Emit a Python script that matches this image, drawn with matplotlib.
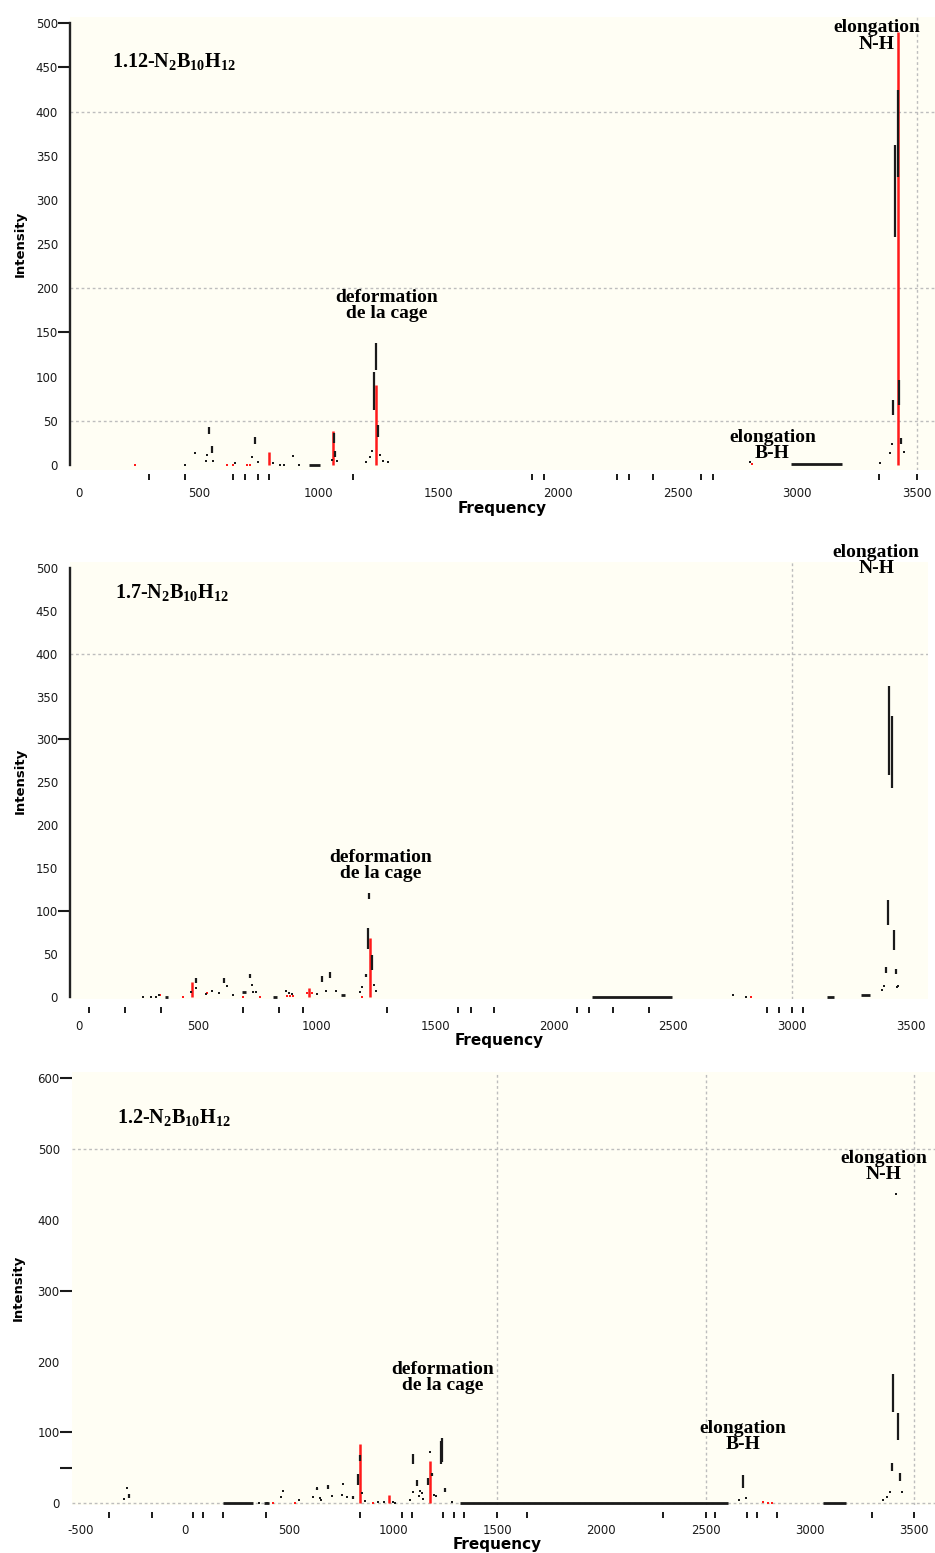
import matplotlib.pyplot as plt

plt.rcParams['mathtext.fontset'] = 'custom'
plt.rcParams['mathtext.rm'] = 'Liberation Serif:bold'
plt.rcParams['mathtext.it'] = 'Liberation Serif:bold'
plt.rcParams['mathtext.bf'] = 'Liberation Serif:bold'

# ---- 1.12-N2B10H12 ----
p1_sticks = [(795, 15), (1062, 39), (1240, 91), (3420, 490)]
p1_red_dots = [(234, 0), (617, 0), (645, 0), (703, 0), (714, 0), (2810, 1)]
p1_segs = [(544, 35, 43), (554, 14, 21), (733, 24, 32), (1065, 25, 36), (1070, 9, 16),
           (1241, 107, 138), (1233, 62, 105), (1248, 32, 45),
           (3420, 326, 424), (3410, 258, 362), (3427, 68, 96), (3401, 57, 74), (3436, 24, 30)]
p1_dots = [(443, 0), (485, 13), (533, 11), (530, 4), (561, 5), (652, 2), (721, 9), (749, 3),
           (812, 2), (838, 0), (855, 0), (895, 10), (920, 0), (1055, 6), (1079, 5), (1199, 3),
           (1215, 9), (1222, 16), (1257, 11), (1268, 5), (1292, 3), (2805, 3), (3346, 2),
           (3388, 14), (3396, 24), (3447, 15)]
p1_runs = [(962, 1006, 0), (2974, 3188, 1)]
p1_rug = [294, 443, 645, 695, 746, 795, 1146, 1894, 1944, 2246, 2297, 2396, 2597, 2650, 3343, 3500]

# ---- 1.7-N2B10H12 ----
p2_sticks = [(474, 17.5), (969, 10), (1224, 68)]
p2_red_dots = [(341, 2), (439, 0), (537, 4), (691, 0), (761, 0), (874, 1), (888, 1), (902, 1),
               (958, 4), (982, 4), (1189, 0), (2827, 0)]
p2_segs = [(491, 16, 22), (612, 16, 22), (719, 22, 26), (1024, 17, 24), (1056, 22, 29),
           (1207, 23, 27), (1214, 56, 80), (1221, 114, 121), (1231, 31, 49),
           (3402, 84, 113), (3409, 259, 362), (3419, 243, 327), (3429, 55, 78),
           (3394, 28, 35), (3436, 26, 32)]
p2_dots = [(271, 0), (302, 0), (323, 0), (338, 2), (471, 5), (494, 10), (535, 3), (558, 7),
           (590, 4), (622, 12), (646, 2), (726, 14), (730, 6), (746, 6), (869, 7), (883, 4),
           (898, 3), (1003, 3), (1040, 7), (1080, 7), (1182, 5), (1189, 11), (1241, 14),
           (1250, 7), (2753, 2), (2805, 0), (3377, 8), (3387, 13), (3441, 11), (3444, 13)]
p2_runs = [(360, 374, 0), (684, 702, 6), (817, 831, 0), (1104, 1118, 2), (2159, 2493, 0),
           (3145, 3178, 0), (3289, 3328, 2)]
p2_rug = [43, 194, 344, 691, 843, 944, 1294, 1596, 1648, 1747, 2094, 2146, 2245, 2398,
          2896, 2946, 3000, 3047]

# ---- 1.2-N2B10H12 ----
p3_sticks = [(841, 83), (981, 12), (1177, 60)]
p3_red_dots = [(424, 0), (530, 0), (905, 0), (2778, 2), (2802, 0), (2818, 0)]
p3_segs = [(-270, 8, 13), (632, 19, 22), (685, 20, 26), (808, 6, 10), (829, 26, 42),
           (841, 60, 68), (1097, 55, 69), (1113, 24, 33), (1169, 26, 35), (1185, 38, 43),
           (1228, 55, 88), (1235, 58, 92), (1249, 16, 22), (2680, 21, 40),
           (3394, 45, 57), (3402, 129, 183), (3423, 89, 128), (3432, 32, 43)]
p3_dots = [(-291, 6), (-280, 22), (357, 0), (392, 0), (461, 9), (472, 17), (549, 5), (616, 9),
           (633, 22), (650, 7), (655, 5), (705, 10), (753, 12), (760, 27), (777, 9), (849, 14),
           (864, 3), (929, 2), (956, 2), (1001, 2), (1010, 1), (1081, 4), (1093, 16),
           (1124, 11), (1131, 17), (1137, 15), (1142, 6), (1177, 73), (1196, 12), (1207, 10),
           (1281, 2), (2662, 5), (2693, 7), (3354, 5), (3370, 9), (3386, 16), (3414, 437),
           (3442, 16)]
p3_runs = [(181, 325, 0), (379, 403, 0), (1321, 2610, 0), (3066, 3175, 0)]
p3_rug = [-364, -160, 40, 88, 184, 388, 841, 1044, 1092, 1241, 1292, 1340, 1500, 1641,
          2297, 2500, 2546, 2698, 2746, 2845, 3298, 3500]

BG = '#fffef4'
INK = '#1a1a1a'
GRID = '#bdbdbd'
W, H = 935, 1553


def draw_panel(ax, sticks, red_dots, segs, dots, runs, rug):
    for x, h in sticks:
        ax.vlines(x, 0, h, color='#ff1a1a', lw=1.8, zorder=3)
    ax.scatter([p[0] for p in red_dots], [p[1] for p in red_dots], s=4, marker='s',
               color='#ff1a1a', linewidths=0, zorder=3)
    for x, lo, hi in segs:
        ax.vlines(x, lo, hi, color=INK, lw=1.6, zorder=4)
    ax.scatter([p[0] for p in dots], [p[1] for p in dots], s=3.5, marker='s',
               color=INK, linewidths=0, zorder=4)
    for x0, x1, y in runs:
        ax.hlines(y, x0, x1, color=INK, lw=2.0, zorder=4)
    ax.set_xticks(rug, minor=True)
    ax.xaxis.remove_overlapping_locs = False
    ax.yaxis.remove_overlapping_locs = False


def style_axes(ax, xlim, ylim, xt, yt, ymarks, hgrid, vgrid, left_spine, offset):
    ax.set_facecolor(BG)
    ax.set_xlim(*xlim)
    ax.set_ylim(*ylim)
    for s in ['top', 'right', 'bottom']:
        ax.spines[s].set_visible(False)
    ax.spines['bottom'].set_position(('outward', offset))
    if left_spine:
        ax.spines['left'].set_bounds(0, 500)
        ax.spines['left'].set_linewidth(1.7)
        ax.spines['left'].set_color('#222222')
    else:
        ax.spines['left'].set_visible(False)
    ax.set_xticks(xt, [str(v) for v in xt])
    ax.set_yticks(yt, [str(v) for v in yt])
    ax.set_yticks(ymarks, minor=True)
    ax.tick_params(axis='x', which='major', length=0, pad=9, labelsize=8.5, labelcolor=INK)
    ax.tick_params(axis='x', which='minor', length=4.5, width=1.4, color=INK)
    ax.tick_params(axis='y', which='major', length=0, pad=8.6, labelsize=8.5, labelcolor=INK)
    ax.tick_params(axis='y', which='minor', length=8.6, width=1.5, color=INK)
    for y in hgrid:
        ax.axhline(y, color=GRID, lw=1.0, ls=(0, (2, 2)), zorder=0.5)
    for x in vgrid:
        ax.axvline(x, color=GRID, lw=1.0, ls=(0, (2, 2)), zorder=0.5)


def axis_labels(ax, ylab_x, xlab_x, xlab_y):
    ax.set_ylabel('Intensity', fontsize=9.5, fontweight='bold', family='DejaVu Sans')
    ax.yaxis.label.set_va('center')
    ax.yaxis.set_label_coords(ylab_x, 0.5)
    ax.set_xlabel('Frequency', fontsize=11, fontweight='bold', family='DejaVu Sans')
    ax.xaxis.label.set_va('center')
    ax.xaxis.set_label_coords(xlab_x, xlab_y)


def note(ax, x, y, s):
    ax.text(x, y, s, ha='center', va='baseline', multialignment='center',
            family='Liberation Serif', fontweight='bold', fontsize=14,
            linespacing=0.95, color='black', zorder=6)


def title(ax, x, y, s):
    ax.text(x, y, s, ha='left', va='baseline', family='Liberation Serif',
            fontweight='bold', fontsize=14.5, color='black', zorder=6)


fig = plt.figure(figsize=(W / 100, H / 100), dpi=100)
fig.patch.set_facecolor('white')

ax1 = fig.add_axes([70 / W, 1 - 470 / H, 865 / W, 453 / H])
ax2 = fig.add_axes([70 / W, 1 - 999 / H, 858 / W, 437 / H])
ax3 = fig.add_axes([71.7 / W, 1 - 1505 / H, 863.3 / W, 433.3 / H])

freq_ticks = [0, 500, 1000, 1500, 2000, 2500, 3000, 3500]

style_axes(ax1, (-38, 3576), (-5.7, 507), freq_ticks, list(range(0, 501, 50)),
           [500, 450, 150], [50, 200, 400], [3500], True, 3)
draw_panel(ax1, p1_sticks, p1_red_dots, p1_segs, p1_dots, p1_runs, p1_rug)
axis_labels(ax1, -0.058, 0.5, -0.086)
title(ax1, 138, 450, '1.12-N$_2$B$_{10}$H$_{12}$')
note(ax1, 1285, 166, 'deformation\nde la cage')
note(ax1, 3334, 471, 'elongation\nN-H')
note(ax1, 2897, 7.5, 'elongation\nB-H')

style_axes(ax2, (-38, 3572), (-2.7, 507), freq_ticks, list(range(0, 501, 50)),
           [300, 100], [400], [3000], True, 6)
draw_panel(ax2, p2_sticks, p2_red_dots, p2_segs, p2_dots, p2_runs, p2_rug)
axis_labels(ax2, -0.058, 0.5, -0.094)
title(ax2, 151, 465, '1.7-N$_2$B$_{10}$H$_{12}$')
note(ax2, 1270, 138, 'deformation\nde la cage')
note(ax2, 3354, 494, 'elongation\nN-H')

style_axes(ax3, (-544, 3602), (-2.4, 609), [-500] + freq_ticks, list(range(0, 601, 100)),
           [600, 300, 100, 50], [0, 500], [1500, 2500, 3500], False, 5)
draw_panel(ax3, p3_sticks, p3_red_dots, p3_segs, p3_dots, p3_runs, p3_rug)
axis_labels(ax3, -0.062, 0.493, -0.092)
title(ax3, -328, 537, '1.2-N$_2$B$_{10}$H$_{12}$')
note(ax3, 1236, 160, 'deformation\nde la cage')
note(ax3, 2679, 76, 'elongation\nB-H')
note(ax3, 3354, 457, 'elongation\nN-H')

fig.savefig('out.png', dpi=100, facecolor='white')
